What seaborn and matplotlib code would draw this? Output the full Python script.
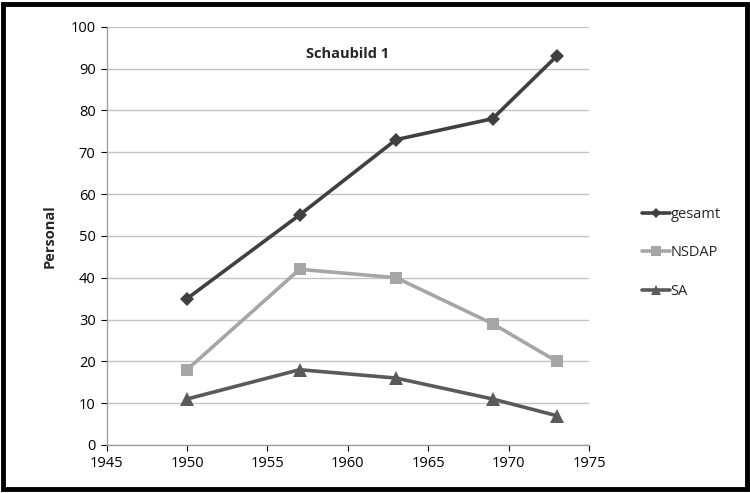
import matplotlib
matplotlib.use("Agg")
import matplotlib.pyplot as plt
import seaborn as sns
import pandas as pd
from matplotlib.patches import Rectangle

years = [1950, 1957, 1963, 1969, 1973]
gesamt = [35, 55, 73, 78, 93]
nsdap = [18, 42, 40, 29, 20]
sa = [11, 18, 16, 11, 7]
series_names = ["gesamt", "NSDAP", "SA"]
x_ticks = [1945, 1950, 1955, 1960, 1965, 1970, 1975]
y_ticks = list(range(0, 101, 10))

df = pd.DataFrame({
    "Jahr": years * 3,
    "Personal": gesamt + nsdap + sa,
    "Serie": [series_names[0]] * 5 + [series_names[1]] * 5 + [series_names[2]] * 5,
})

sns.set_theme(style="white")
plt.rcParams["font.family"] = ["Open Sans", "DejaVu Sans"]

fig = plt.figure(figsize=(7.5, 4.93), dpi=100)
ax = fig.add_axes([106.7 / 750, 1 - 445 / 493, (589 - 106.7) / 750, (445 - 26.7) / 493])

palette = {"gesamt": "#404040", "NSDAP": "#a6a6a6", "SA": "#5a5a5a"}
markers = {"gesamt": "D", "NSDAP": "s", "SA": "^"}
msizes = {"gesamt": 7, "NSDAP": 9, "SA": 9.5}

sns.lineplot(data=df, x="Jahr", y="Personal", hue="Serie", style="Serie",
             palette=palette, markers=markers, dashes=False, linewidth=2.6,
             markersize=9, markeredgewidth=0, ax=ax, legend=True)
for line in ax.get_lines():
    lab = line.get_label()
for line, name in zip(ax.lines, series_names):
    line.set_markersize(msizes[name])

ax.set_xlim(1945, 1975)
ax.set_ylim(0, 100)
ax.set_xticks(x_ticks)
ax.set_yticks(y_ticks)
ax.tick_params(axis="both", labelsize=10.5, colors="#000000", length=4, width=0.8,
               direction="out", bottom=True, left=True, pad=4)
for t in ax.get_xticklines() + ax.get_yticklines():
    t.set_color("#a0a0a0")
ax.yaxis.grid(True, color="#c4c4c4", linewidth=1.0)
ax.xaxis.grid(False)
ax.set_axisbelow(True)
for s in ["top", "right"]:
    ax.spines[s].set_visible(False)
for s in ["left", "bottom"]:
    ax.spines[s].set_color("#a0a0a0")
    ax.spines[s].set_linewidth(1.0)

ax.set_xlabel("")
ax.set_ylabel("Personal", fontsize=10.5, fontweight="bold", labelpad=10)
ax.text(0.5, 0.935, "Schaubild 1", transform=ax.transAxes, ha="center", va="center",
        fontsize=10.5, fontweight="bold")

handles, labels = ax.get_legend_handles_labels()
ax.get_legend().remove()
for h, name in zip(handles, labels):
    if name in msizes:
        h.set_markersize(msizes[name] * 0.8)
fig.legend(handles, labels, loc="center left", bbox_to_anchor=(0.848, 0.487),
           frameon=False, fontsize=10.5, labelspacing=1.6, handlelength=1.9,
           handletextpad=0.05, borderaxespad=0)

fig.patches.append(Rectangle((0.004, 0.008), 0.992, 0.984, transform=fig.transFigure,
                             fill=False, edgecolor="#000000", linewidth=3.5, zorder=10))

fig.savefig("out.png", dpi=100)
